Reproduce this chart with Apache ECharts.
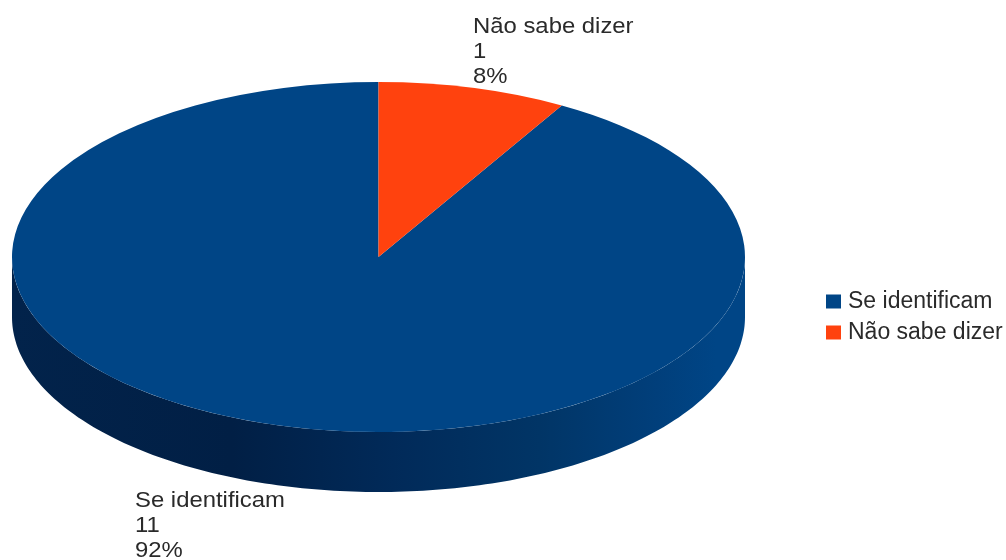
<!DOCTYPE html>
<html>
<head>
<meta charset="utf-8">
<style>html,body{margin:0;padding:0;background:#fff}#chart{width:1006px;height:560px}</style>
<script src="https://cdn.jsdelivr.net/npm/echarts@6/dist/echarts.min.js"></script>
</head>
<body>
<div id="chart"></div>
<script>
// Survey answers
const categories = ['Se identificam', 'Não sabe dizer'];
const counts = [11, 1];
const sliceColors = ['#004586', '#ff420e'];

// Disc geometry in pixels
const disc = { cx: 378.5, cy: 257, rx: 366.5, ry: 175, depth: 60 };
const labelAnchors = [[135, 488], [473, 14]];
const labelFont = '22px "Liberation Sans", sans-serif';
const labelColor = '#2a2a2a';

const total = counts.reduce((a, b) => a + b, 0);

// Slices run counter-clockwise from twelve o'clock, so each start angle is
// the top of the disc minus the share already used.
function sliceAngles(index) {
  const before = counts.slice(0, index).reduce((a, b) => a + b, 0);
  const top = -Math.PI / 2;
  return {
    from: top - (before + counts[index]) / total * 2 * Math.PI,
    to: top - before / total * 2 * Math.PI
  };
}

function renderWall() {
  const pts = [];
  for (let deg = 0; deg <= 180; deg += 1) {
    const t = deg * Math.PI / 180;
    pts.push([disc.cx + disc.rx * Math.cos(t), disc.cy + disc.depth + disc.ry * Math.sin(t)]);
  }
  for (let deg = 180; deg >= 0; deg -= 1) {
    const t = deg * Math.PI / 180;
    pts.push([disc.cx + disc.rx * Math.cos(t), disc.cy + disc.ry * Math.sin(t)]);
  }
  return {
    type: 'polygon',
    shape: { points: pts },
    style: {
      fill: new echarts.graphic.LinearGradient(0, 0, 1, 0, [
        { offset: 0, color: '#02234b' },
        { offset: 0.3, color: '#011f45' },
        { offset: 0.52, color: '#012a59' },
        { offset: 0.72, color: '#013566' },
        { offset: 0.88, color: '#013f7b' },
        { offset: 0.96, color: '#004586' },
        { offset: 1, color: '#004586' }
      ])
    }
  };
}

function renderSlice(index) {
  const a = sliceAngles(index);
  const share = Math.round(counts[index] / total * 100);
  return {
    type: 'group',
    children: [
      {
        type: 'sector',
        x: disc.cx,
        y: disc.cy,
        scaleY: disc.ry / disc.rx,
        shape: { cx: 0, cy: 0, r0: 0, r: disc.rx, startAngle: a.from, endAngle: a.to, clockwise: true },
        style: { fill: sliceColors[index] }
      },
      {
        type: 'text',
        x: labelAnchors[index][0],
        y: labelAnchors[index][1],
        scaleX: 1.085,
        style: {
          text: categories[index] + '\n' + counts[index] + '\n' + share + '%',
          font: labelFont,
          fill: labelColor,
          lineHeight: 25,
          align: 'left',
          verticalAlign: 'top'
        }
      }
    ]
  };
}

const sliceSeries = categories.map((name, i) => ({
  type: 'custom',
  name: name,
  coordinateSystem: 'none',
  silent: true,
  animation: false,
  clip: false,
  z: 2,
  itemStyle: { color: sliceColors[i] },
  data: [counts[i]],
  renderItem: () => renderSlice(i)
}));

const chart = echarts.init(document.getElementById('chart'), null, { renderer: 'canvas' });
chart.setOption({
  backgroundColor: '#ffffff',
  animation: false,
  legend: {
    data: categories,
    orient: 'vertical',
    left: 821,
    top: 285,
    padding: 5,
    icon: 'rect',
    itemWidth: 15,
    itemHeight: 14,
    itemGap: 8,
    selectedMode: false,
    textStyle: { fontFamily: '"Liberation Sans", sans-serif', fontSize: 23, color: labelColor, padding: [0, 0, 0, 2] }
  },
  series: [
    {
      type: 'custom',
      name: 'wall',
      coordinateSystem: 'none',
      silent: true,
      animation: false,
      z: 1,
      data: [total],
      renderItem: renderWall
    },
    ...sliceSeries
  ]
});
</script>
</body>
</html>
